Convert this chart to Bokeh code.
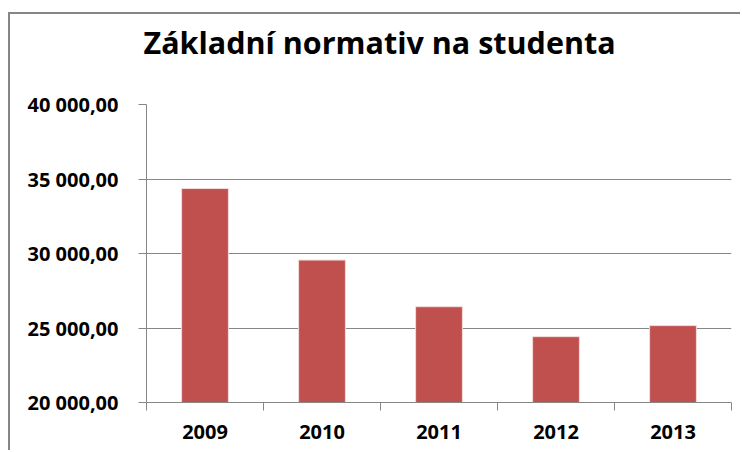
from bokeh.plotting import figure
from bokeh.models import FactorRange, Range1d, LinearAxis, CategoricalAxis, FixedTicker
from bokeh.embed import file_html
from bokeh.resources import INLINE

title_text = "Základní normativ na studenta"
years = ["2009", "2010", "2011", "2012", "2013"]
values = [34360, 29560, 26430, 24420, 25160]
y_ticks = [20000, 25000, 30000, 35000, 40000]
y_tick_labels = ["20 000,00", "25 000,00", "30 000,00", "35 000,00", "40 000,00"]
y_min, y_max = 20000, 40000

GRAY = "#868686"
BAR = "#C0504D"
FONT = "Open Sans"

p = figure(width=732, height=438, output_backend="svg", toolbar_location=None,
           x_range=FactorRange(factors=years, range_padding=0),
           y_range=Range1d(y_min, y_max),
           x_axis_location=None, y_axis_location="left",
           min_border_left=136, min_border_right=11, min_border_top=90, min_border_bottom=50)
p.styles = {"border-top": f"2px solid {GRAY}", "border-left": f"2px solid {GRAY}",
            "margin-top": "12px", "margin-left": "8px"}
p.outline_line_color = None
p.background_fill_color = "white"
p.border_fill_color = "white"

# trailing empty line lifts the title away from the plot area
p.title.text = title_text + "\n"
p.title.align = "left"
p.title.offset = -3
p.title.standoff = 0
p.title.text_line_height = 1.0
p.title.text_font = FONT
p.title.text_font_style = "bold"
p.title.text_font_size = "30.5px"
p.title.text_color = "black"

# y axis
yt = FixedTicker(ticks=y_ticks)
p.yaxis.ticker = yt
p.yaxis.major_label_overrides = dict(zip(y_ticks, y_tick_labels))
p.yaxis.axis_line_color = GRAY
p.yaxis.major_tick_line_color = GRAY
p.yaxis.major_tick_in = 0
p.yaxis.major_tick_out = 8
p.yaxis.minor_tick_line_color = None
p.yaxis.major_label_standoff = 20
p.yaxis.major_label_text_font = FONT
p.yaxis.major_label_text_font_style = "bold"
p.yaxis.major_label_text_font_size = "20px"
p.yaxis.major_label_text_color = "black"
p.ygrid.ticker = yt
p.ygrid.grid_line_color = GRAY
p.xgrid.visible = False

# x axes: boundary ticks (between categories) + category labels
edges = list(range(len(years) + 1))
edge_axis = LinearAxis(ticker=FixedTicker(ticks=edges),
                       major_label_overrides={e: "" for e in edges},
                       major_label_text_font_size="1px", major_label_standoff=0,
                       major_tick_in=0, major_tick_out=8, minor_tick_line_color=None,
                       axis_line_color=GRAY, major_tick_line_color=GRAY)
cat_axis = CategoricalAxis(axis_line_color=None, major_tick_line_color=None,
                           major_tick_in=0, major_tick_out=0, major_label_standoff=14,
                           major_label_text_font=FONT, major_label_text_font_style="bold",
                           major_label_text_font_size="20px", major_label_text_color="black")
p.add_layout(edge_axis, "below")
p.add_layout(cat_axis, "below")

p.vbar(x=years, top=values, bottom=y_min, width=0.4, fill_color=BAR, line_color="#F2DCDB", line_width=1)

open("out.html", "w").write(file_html(p, INLINE))
